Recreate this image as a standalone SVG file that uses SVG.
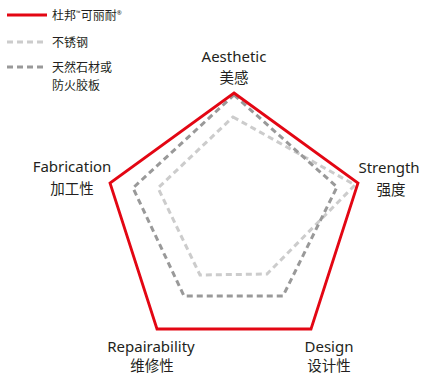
<svg xmlns="http://www.w3.org/2000/svg" width="425" height="376" viewBox="0 0 425 376">
<style>
.lbl{font-family:"Noto Sans","Open Sans",sans-serif;font-size:15px;fill:#231f20;text-anchor:middle}
.cn{font-family:"Noto Sans CJK SC",sans-serif;font-size:14.5px;fill:#231f20;text-anchor:middle}
.lg{font-family:"Noto Sans CJK SC",sans-serif;font-size:12px;fill:#231f20}
.sup{font-family:"Noto Sans","Noto Sans CJK SC",sans-serif;font-size:6px;fill:#231f20}
.red{fill:none;stroke:#e30613;stroke-width:2.8;stroke-linejoin:miter}
.dark{fill:none;stroke:#999;stroke-width:3;stroke-dasharray:6 4}
.light{fill:none;stroke:#ccc;stroke-width:3;stroke-dasharray:6 4}
</style>
<g id="legend">
<line class="red" x1="7" y1="15" x2="47" y2="15"/>
<text class="lg" x="52" y="20">杜邦<tspan class="sup" dy="-5">™</tspan><tspan dy="5">可丽耐</tspan><tspan class="sup" dy="-5">®</tspan></text>
<line class="light" x1="7" y1="42" x2="47" y2="42"/>
<text class="lg" x="52" y="47">不锈钢</text>
<line class="dark" x1="7" y1="67" x2="47" y2="67"/>
<text class="lg" x="52" y="72">天然石材或</text>
<text class="lg" x="52" y="90">防火胶板</text>
</g>
<g id="connectors">
<polygon class="light" points="233,117 355,185 267,274 200,275 158,188"/>
<polygon class="dark" points="234,95 337,187 283,296 184,296 133,188"/>
<polygon class="red" points="234,93 358,183 311,329 157,329 110,183"/>
</g>
<g id="aesthetic"><text class="lbl" x="234" y="62">Aesthetic</text><text class="cn" x="234" y="83">美感</text></g>
<g id="strength"><text class="lbl" x="389" y="173">Strength</text><text class="cn" x="391" y="195">强度</text></g>
<g id="fabrication"><text class="lbl" x="72" y="172">Fabrication</text><text class="cn" x="72" y="194">加工性</text></g>
<g id="repairability"><text class="lbl" x="151" y="352">Repairability</text><text class="cn" x="152" y="371">维修性</text></g>
<g id="design"><text class="lbl" x="329" y="352">Design</text><text class="cn" x="329" y="371">设计性</text></g>
</svg>
